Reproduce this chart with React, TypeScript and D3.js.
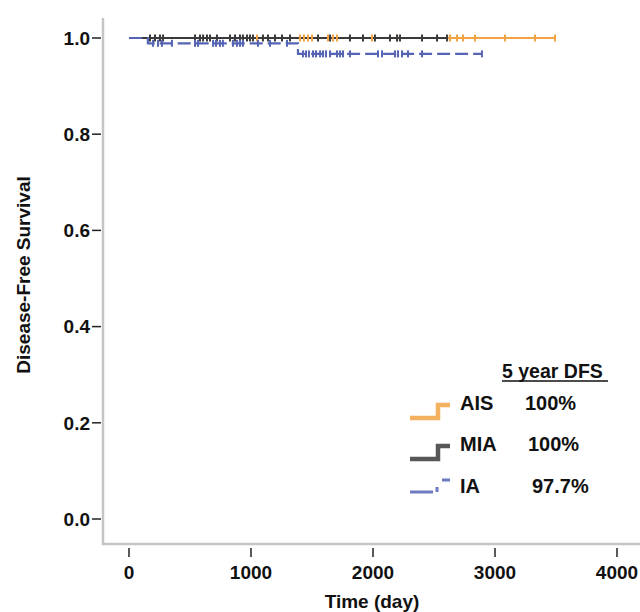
import React, { useEffect, useRef } from "react";
import * as d3 from "d3";

// censored times (day)
const aisCensor = [1049, 1402, 1434, 1467, 1500, 1631, 1672, 1705, 1992, 2197, 2631, 2689, 2738, 2836, 3082, 3328, 3492];
const miaCensor = [172, 213, 254, 279, 541, 582, 607, 639, 664, 721, 828, 869, 910, 934, 967, 992, 1016, 1098, 1139, 1197, 1254, 1320, 1549, 1648, 1811, 1918, 2016, 2139, 2197, 2221, 2402, 2525, 2607];
const iaCensor = [197, 238, 270, 352, 541, 566, 689, 713, 746, 770, 852, 885, 910, 934, 1057, 1156, 1295, 1426, 1451, 1475, 1508, 1533, 1566, 1590, 1615, 1648, 1705, 1730, 1754, 1811, 2041, 2074, 2180, 2205, 2238, 2287, 2402, 2893];

// event times and survival after each event
const iaEventDays = [155, 1385];
const iaEventSurv = [0.989, 0.967];

const groups = ["AIS", "MIA", "IA"];
const dfs5 = ["100%", "100%", "97.7%"];
const xTicks = [0, 1000, 2000, 3000, 4000];
const yTicks = [0, 0.2, 0.4, 0.6, 0.8, 1.0];

const colors = ["#f2a444", "#3a3a3a", "#5664b4"];
const font = "'Liberation Sans', Arial, sans-serif";

const App = () => {
  const svgRef = useRef<SVGSVGElement>(null);

  useEffect(() => {
    const svg = d3.select(svgRef.current);
    svg.selectAll("*").remove();

    const x = d3.scaleLinear().domain([0, 4000]).range([129, 617]);
    const y = d3.scaleLinear().domain([0, 1]).range([519, 38]);

    // axes frame (light gray)
    svg.append("line").attr("x1", 103).attr("x2", 103).attr("y1", 18).attr("y2", 545)
      .attr("stroke", "#c4c4c4").attr("stroke-width", 2.5);
    svg.append("line").attr("x1", 102).attr("x2", 640).attr("y1", 544).attr("y2", 544)
      .attr("stroke", "#c4c4c4").attr("stroke-width", 2.5);

    // y ticks
    const yg = svg.append("g");
    yTicks.forEach((t) => {
      yg.append("line").attr("x1", 92).attr("x2", 101).attr("y1", y(t)).attr("y2", y(t))
        .attr("stroke", "#222").attr("stroke-width", 1.5);
      yg.append("text").attr("x", 90).attr("y", y(t)).attr("dy", "0.36em")
        .attr("text-anchor", "end").attr("font-family", font).attr("font-weight", "bold")
        .attr("font-size", 19).attr("fill", "#111").text(d3.format(".1f")(t));
    });

    // x ticks
    const xg = svg.append("g");
    xTicks.forEach((t) => {
      xg.append("line").attr("x1", x(t)).attr("x2", x(t)).attr("y1", 548).attr("y2", 557)
        .attr("stroke", "#222").attr("stroke-width", 1.5);
      xg.append("text").attr("x", x(t)).attr("y", 579)
        .attr("text-anchor", "middle").attr("font-family", font).attr("font-weight", "bold")
        .attr("font-size", 19).attr("fill", "#111").text(t);
    });

    svg.append("text").attr("x", 372).attr("y", 608).attr("text-anchor", "middle")
      .attr("font-family", font).attr("font-weight", "bold").attr("font-size", 19)
      .attr("fill", "#111").text("Time (day)");
    svg.append("text").attr("transform", "translate(30,275) rotate(-90)")
      .attr("text-anchor", "middle").attr("font-family", font).attr("font-weight", "bold")
      .attr("font-size", 19).attr("fill", "#111").text("Disease-Free Survival");

    // KM step curves
    const survAt = (days: number[], surv: number[]) => (t: number) => {
      let s = 1;
      days.forEach((d, i) => { if (t >= d) s = surv[i]; });
      return s;
    };
    const stepPts = (days: number[], surv: number[], end: number) => {
      const pts: [number, number][] = [[0, 1]];
      days.forEach((d, i) => pts.push([d, surv[i]]));
      pts.push([end, surv.length ? surv[surv.length - 1] : 1]);
      return pts;
    };
    const line = d3.line<[number, number]>().x((d) => x(d[0])).y((d) => y(d[1])).curve(d3.curveStepAfter);

    const series = [
      { censor: aisCensor, days: [] as number[], surv: [] as number[], dash: null as string | null },
      { censor: miaCensor, days: [] as number[], surv: [] as number[], dash: null },
      { censor: iaCensor, days: iaEventDays, surv: iaEventSurv, dash: "13,5" },
    ];

    series.forEach((s, i) => {
      const end = d3.max(s.censor) as number;
      const p = svg.append("path").datum(stepPts(s.days, s.surv, end)).attr("d", line)
        .attr("fill", "none").attr("stroke", colors[i]).attr("stroke-width", 2.2);
      if (s.dash) p.attr("stroke-dasharray", s.dash);
    });
    series.forEach((s, i) => {
      const f = survAt(s.days, s.surv);
      svg.append("g").selectAll("line").data(s.censor).join("line")
        .attr("x1", (d) => x(d)).attr("x2", (d) => x(d))
        .attr("y1", (d) => y(f(d)) - 3.5).attr("y2", (d) => y(f(d)) + 3.5)
        .attr("stroke", colors[i]).attr("stroke-width", 2);
    });

    // legend
    const lg = svg.append("g").attr("font-family", font).attr("font-weight", "bold").attr("fill", "#111");
    lg.append("text").attr("x", 502).attr("y", 378).attr("font-size", 19.5).text("5 year DFS");
    lg.append("line").attr("x1", 502).attr("x2", 608).attr("y1", 381).attr("y2", 381)
      .attr("stroke", "#111").attr("stroke-width", 1.5);
    const rowY = [410, 451, 493];
    const valX = [525, 528, 532];
    groups.forEach((g, i) => {
      const by = rowY[i];
      const icon = lg.append("path")
        .attr("d", `M410,${by + 8}H438V${by - 5}H450`)
        .attr("fill", "none").attr("stroke", colors[i]).attr("stroke-width", 4.5)
        .attr("opacity", 0.85);
      if (i === 2) {
        icon.attr("d", `M410,${by - 1}H433M437,${by - 1}V${by - 6}M442,${by - 13}H450`)
          .attr("stroke-width", 3);
      }
      lg.append("text").attr("x", 460).attr("y", by).attr("font-size", 20).text(g);
      lg.append("text").attr("x", valX[i]).attr("y", by).attr("font-size", 20).text(dfs5[i]);
    });
  }, []);

  return (
    <svg ref={svgRef} width={640} height={612}
      style={{ position: "absolute", left: 0, top: 0, background: "white" }} />
  );
};

export default App;
